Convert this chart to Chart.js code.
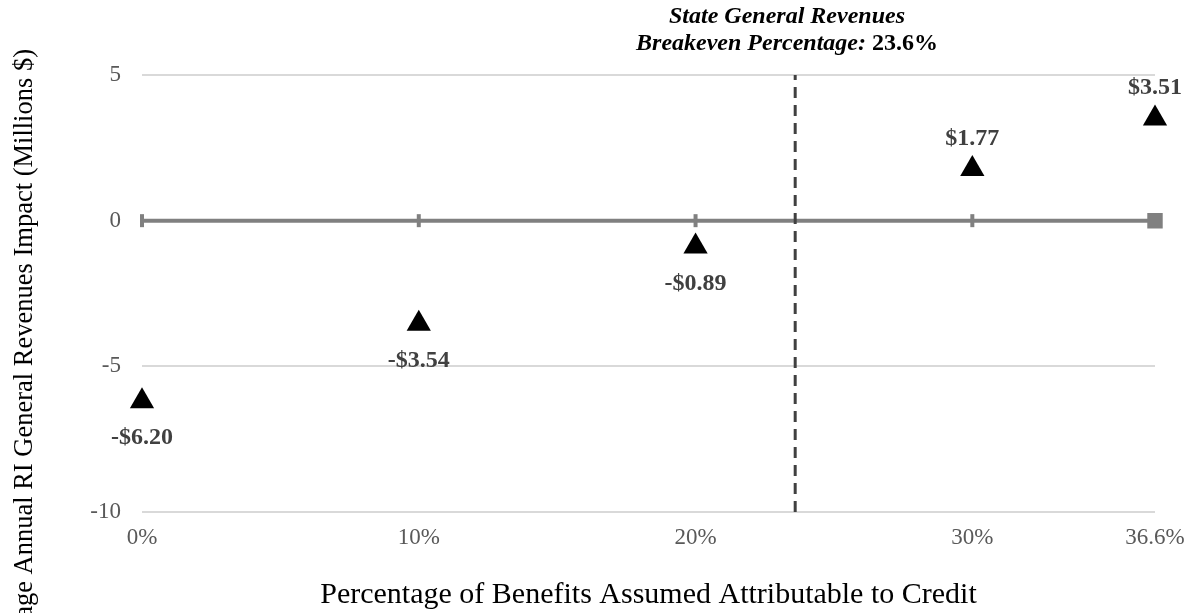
<!DOCTYPE html>
<html>
<head>
<meta charset="utf-8">
<script src="https://cdn.jsdelivr.net/npm/chart.js@4.4.0/dist/chart.umd.min.js"></script>
<style>
html,body{margin:0;padding:0;background:#fff;}
#wrap{width:1187px;height:613px;position:relative;}
</style>
</head>
<body>
<div id="wrap"><canvas id="c" width="1187" height="613"></canvas></div>
<script>
// ---- data ----
const xValues = [0, 10, 20, 30, 36.6];
const impactValues = [-6.20, -3.54, -0.89, 1.77, 3.51];
const impactLabels = ['-$6.20', '-$3.54', '-$0.89', '$1.77', '$3.51'];
const xTickValues = [0, 10, 20, 30, 36.6];
const xTickLabels = ['0%', '10%', '20%', '30%', '36.6%'];
const breakevenPct = 23.6;
const yMin = -10, yMax = 5, yStep = 5;
const titleLine1 = 'State General Revenues';
const titleLine2a = 'Breakeven Percentage: ';
const titleLine2b = '23.6%';
const xTitle = 'Percentage of Benefits Assumed Attributable to Credit';
const yTitle = 'Average Annual RI General Revenues Impact (Millions $)';

const FONT = '"Liberation Serif", "Times New Roman", serif';

const pointsData = xValues.map((x, i) => ({x: x, y: impactValues[i]}));
const zeroLineData = xTickValues.map(x => ({x: x, y: 0}));
const breakevenData = [{x: breakevenPct, y: yMin}, {x: breakevenPct, y: yMax}];

const labelPlugin = {
  id: 'labels',
  afterDatasetsDraw(chart) {
    const ctx = chart.ctx;
    const meta = chart.getDatasetMeta(2);
    ctx.save();
    ctx.font = 'bold 24px ' + FONT;
    ctx.fillStyle = '#404040';
    ctx.textAlign = 'center';
    ctx.textBaseline = 'alphabetic';
    meta.data.forEach((pt, i) => {
      const v = impactValues[i];
      const dy = v < 0 ? 43 : -24;
      ctx.fillText(impactLabels[i], pt.x, pt.y + dy);
    });
    ctx.restore();
  }
};

const textPlugin = {
  id: 'texts',
  afterDraw(chart) {
    const ctx = chart.ctx;
    ctx.save();
    // breakeven title
    const cx = 787;
    ctx.fillStyle = '#000';
    ctx.textBaseline = 'alphabetic';
    ctx.textAlign = 'center';
    ctx.font = 'italic bold 24px ' + FONT;
    ctx.fillText(titleLine1, cx, 23);
    const f2a = 'italic bold 24px ' + FONT;
    const f2b = 'bold 24px ' + FONT;
    ctx.font = f2a; const wa = ctx.measureText(titleLine2a).width;
    ctx.font = f2b; const wb = ctx.measureText(titleLine2b).width;
    let sx = cx - (wa + wb) / 2;
    ctx.textAlign = 'left';
    ctx.font = f2a; ctx.fillText(titleLine2a, sx, 50);
    ctx.font = f2b; ctx.fillText(titleLine2b, sx + wa, 50);
    // y title (partly cut off at the bottom, as in the original)
    ctx.translate(32, 49);
    ctx.rotate(-Math.PI / 2);
    ctx.textAlign = 'right';
    ctx.font = '26.5px ' + FONT;
    ctx.fillStyle = '#000';
    ctx.fillText(yTitle, 0, 0);
    ctx.restore();
  }
};

new Chart(document.getElementById('c'), {
  type: 'scatter',
  data: {
    datasets: [
      {
        type: 'line',
        data: zeroLineData,
        borderColor: '#808080',
        borderWidth: 4,
        pointStyle: ['line', 'line', 'line', 'line', 'rect'],
        rotation: [90, 90, 90, 90, 0],
        pointRadius: [6.5, 6.5, 6.5, 6.5, 9.5],
        pointBorderWidth: [4, 4, 4, 4, 2],
        pointBackgroundColor: '#808080',
        pointBorderColor: '#808080',
        clip: false,
        order: 3
      },
      {
        type: 'line',
        data: breakevenData,
        borderColor: '#404040',
        borderWidth: 3,
        borderDash: [11, 7],
        pointRadius: 0,
        clip: false,
        order: 2
      },
      {
        data: pointsData,
        pointStyle: 'triangle',
        pointRadius: 14,
        pointHoverRadius: 14,
        backgroundColor: '#000',
        borderColor: '#000',
        borderWidth: 0,
        clip: false,
        order: 1
      }
    ]
  },
  options: {
    responsive: false,
    animation: false,
    events: [],
    layout: {padding: {top: 75, right: 32, left: 0, bottom: 0}},
    plugins: {legend: {display: false}, tooltip: {enabled: false}},
    scales: {
      x: {
        type: 'linear',
        min: 0, max: 36.6,
        afterBuildTicks(scale) { scale.ticks = xTickValues.map(v => ({value: v})); },
        afterFit(scale) { scale.height = 101; scale.paddingLeft = 0; scale.paddingRight = 0; },
        grid: {display: false, drawTicks: false},
        border: {display: false},
        ticks: {
          padding: 12,
          color: '#595959',
          font: {family: FONT, size: 23},
          maxRotation: 0,
          autoSkip: false,
          callback(v) { const i = xTickValues.indexOf(v); return i >= 0 ? xTickLabels[i] : ''; }
        },
        title: {display: true, text: xTitle, color: '#000', font: {family: FONT, size: 30}, padding: {top: 4, bottom: 0}}
      },
      y: {
        min: yMin, max: yMax,
        afterFit(scale) { scale.width = 142; },
        grid: {color: '#d9d9d9', lineWidth: 2, drawTicks: false},
        border: {display: false},
        ticks: {
          stepSize: yStep,
          padding: 21,
          color: '#595959',
          font: {family: FONT, size: 23}
        }
      }
    }
  },
  plugins: [labelPlugin, textPlugin]
});
</script>
</body>
</html>
